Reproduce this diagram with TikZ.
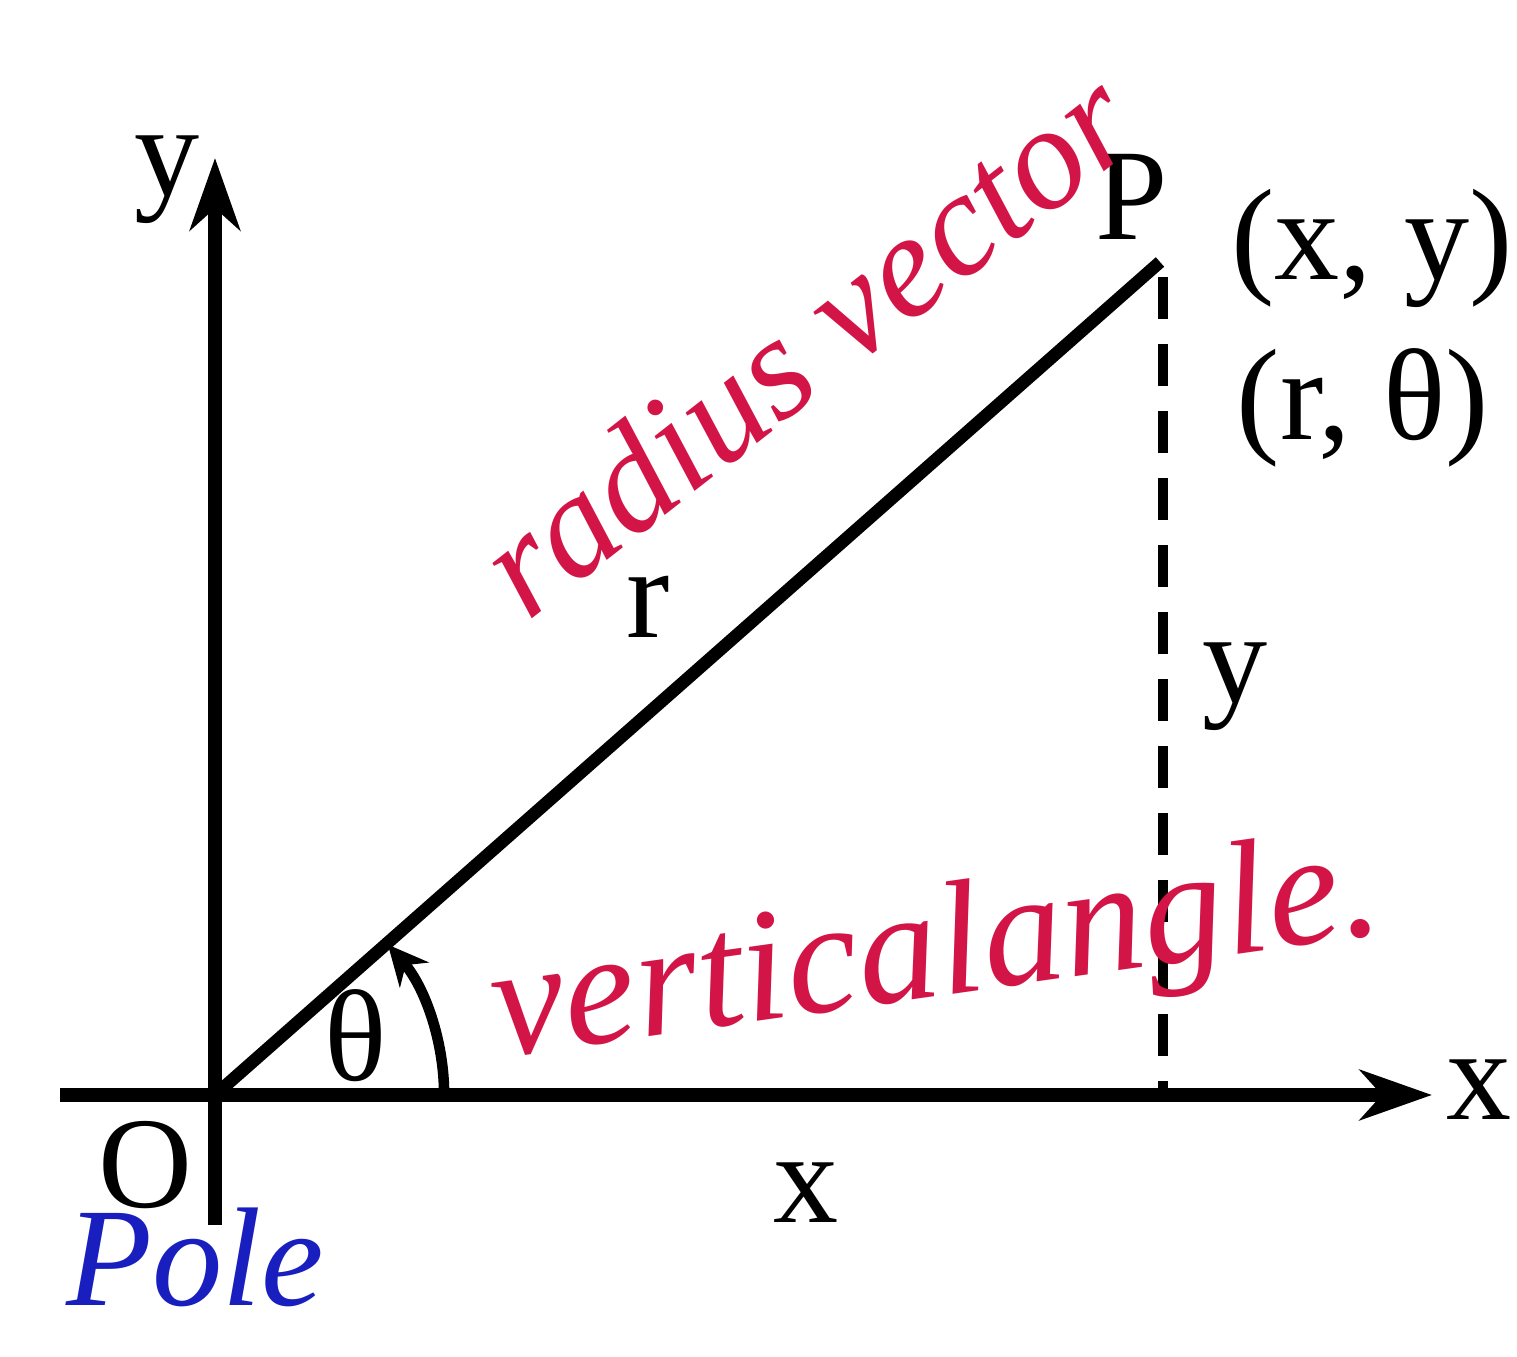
\documentclass[tikz,border=0pt]{standalone}
\usepackage{fontspec}
\setmainfont{Liberation Serif}
\usepackage{xcolor}
\usetikzlibrary{arrows.meta}
\definecolor{inkred}{RGB}{210,20,70}
\definecolor{inkblue}{RGB}{25,30,190}

\begin{document}
\begin{tikzpicture}[
  x=0.01cm, y=0.01cm,
  axis/.style={line width=3.8pt, -{Stealth[length=0.72cm, width=0.5cm, inset=0.22cm]}},
  ray/.style={line width=3.6pt},
  drop/.style={line width=2.8pt, dash pattern=on 0.42cm off 0.25cm},
  sweep/.style={line width=3pt, -{Stealth[length=0.4cm, width=0.38cm]}},
  lbl/.style={font=\fontsize{37}{40}\selectfont, inner sep=0pt},
  redink/.style={text=inkred, font=\fontsize{42}{44}\selectfont\itshape, inner sep=0pt},
  blueink/.style={text=inkblue, font=\fontsize{40}{44}\selectfont\itshape, inner sep=0pt}
]
\useasboundingbox (0,0) rectangle (1517,1357);

\coordinate (O) at (215,262);
\coordinate (ybot) at (215,132);
\coordinate (ytop) at (215,1199);
\coordinate (xleft) at (60,262);
\coordinate (xtip) at (1432,262);
\coordinate (P) at (1160,1095);
\coordinate (Ptop) at (1163,1080);
\coordinate (Pfoot) at (1163,262);

\draw[axis] (ybot) -- (ytop);
\draw[axis] (xleft) -- (xtip);
\draw[ray] (O) -- (P);
\draw[drop] (Ptop) -- (Pfoot);
\draw[sweep] ([shift={(0:2.29cm)}]O) arc[start angle=0, end angle=41, radius=2.29cm];

\node[lbl] (ylbl) at (167,1177) {y};
\node[lbl] (xaxlbl) at (1479,267) {x};
\node[lbl] (Olbl) at (145,192) {O};
\node[lbl] (Plbl) at (1132,1160) {P};
\node[lbl] (xy) at (1372,1109) {(x, y)};
\node[lbl] (rtheta) at (1363,949) {(r, θ)};
\node[lbl] (rlbl) at (648,750) {r};
\node[lbl] (ydrop) at (1235,670) {y};
\node[lbl] (xlbl) at (806,164) {x};
\node[lbl] (theta) at (356,321) {θ};

\node[redink, rotate=38] (radvec) at (805,1015) {radius vector};
\node[redink, rotate=8, font=\fontsize{46}{48}\selectfont\itshape] (vangle) at (937,400) {verticalangle.};
\node[blueink] (pole) at (195,100) {Pole};

\end{tikzpicture}
\end{document}
